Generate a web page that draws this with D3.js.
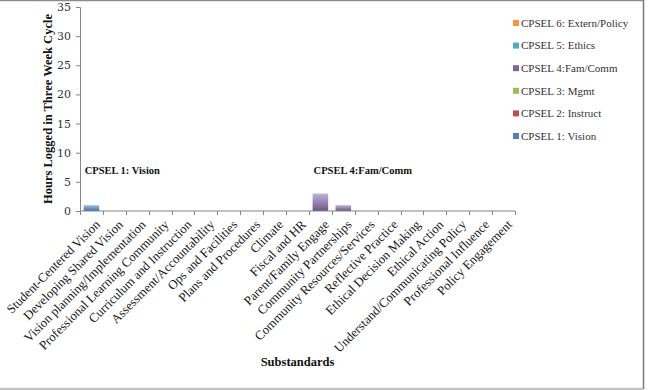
<!DOCTYPE html>
<html>
<head>
<meta charset="utf-8">
<script src="https://cdn.jsdelivr.net/npm/d3@7"></script>
<style>
  body { margin: 0; background: #fff; }
  svg { display: block; font-family: "Liberation Serif", serif; }
</style>
</head>
<body>
<script>
const W = 670, H = 390;
const margin = { top: 7, right: 155, bottom: 179, left: 80 };
const w = 515 - margin.left;
const h = 211 - margin.top;

const substandards = [
  'Student-Centered Vision', 'Developing Shared Vision', 'Vision planning/Implementation',
  'Professional Learning Community', 'Curriculum and Instruction', 'Assessment/Accountability',
  'Ops and Facilities', 'Plans and Procedures', 'Climate', 'Fiscal and HR',
  'Parent/Family Engage', 'Community Partnerships', 'Community Resources/Services',
  'Reflective Practice', 'Ethical Decision Making', 'Ethical Action',
  'Understand/Communicating Policy', 'Professional Influence', 'Policy Engagement'
];

const seriesNames = ['CPSEL 1: Vision', 'CPSEL 2: Instruct', 'CPSEL 3: Mgmt',
  'CPSEL 4:Fam/Comm', 'CPSEL 5: Ethics', 'CPSEL 6: Extern/Policy'];

// hours per substandard for each standard
const vision   = [1, 0, 0, 0, 0, 0, 0, 0, 0, 0, 0, 0, 0, 0, 0, 0, 0, 0, 0];
const instruct = [0, 0, 0, 0, 0, 0, 0, 0, 0, 0, 0, 0, 0, 0, 0, 0, 0, 0, 0];
const mgmt     = [0, 0, 0, 0, 0, 0, 0, 0, 0, 0, 0, 0, 0, 0, 0, 0, 0, 0, 0];
const famComm  = [0, 0, 0, 0, 0, 0, 0, 0, 0, 0, 3, 1, 0, 0, 0, 0, 0, 0, 0];
const ethics   = [0, 0, 0, 0, 0, 0, 0, 0, 0, 0, 0, 0, 0, 0, 0, 0, 0, 0, 0];
const extern   = [0, 0, 0, 0, 0, 0, 0, 0, 0, 0, 0, 0, 0, 0, 0, 0, 0, 0, 0];

const yTicks = [0, 5, 10, 15, 20, 25, 30, 35];

const annotations = [
  { label: 'CPSEL 1: Vision', at: 'Student-Centered Vision', value: 10 },
  { label: 'CPSEL 4:Fam/Comm', at: 'Parent/Family Engage', value: 10 }
];

const colors = ['#4f81bd', '#c0504d', '#9bbb59', '#8064a2', '#4bacc6', '#f79646'];
const lightColors = ['#a3bde3', '#e0a3a1', '#cde0ad', '#c2b3d6', '#a8dcea', '#fbc8a0'];

const allSeries = [vision, instruct, mgmt, famComm, ethics, extern];
const rows = substandards.map((s, i) => {
  const r = { cat: s };
  seriesNames.forEach((n, k) => { r[n] = allSeries[k][i]; });
  return r;
});

const svg = d3.select('body').append('svg')
  .attr('width', W)
  .attr('height', H);

// gradients like the spreadsheet bars
const defs = svg.append('defs');
seriesNames.forEach((n, k) => {
  const g = defs.append('linearGradient')
    .attr('id', 'grad' + k)
    .attr('x1', 0).attr('y1', 0).attr('x2', 0).attr('y2', 1);
  g.append('stop').attr('offset', '0%').attr('stop-color', lightColors[k]);
  g.append('stop').attr('offset', '100%').attr('stop-color', d3.color(colors[k]).darker(0.5));
});

// chart frame
svg.append('line').attr('x1', 0).attr('x2', 644).attr('y1', 0.5).attr('y2', 0.5)
  .attr('stroke', '#8c8c8c').attr('stroke-width', 1.5);
svg.append('line').attr('x1', 643.5).attr('x2', 643.5).attr('y1', 0).attr('y2', 389)
  .attr('stroke', '#7a7a7a').attr('stroke-width', 1.5);
svg.append('line').attr('x1', 0).attr('x2', 643).attr('y1', 389).attr('y2', 389)
  .attr('stroke', '#c4c4c4').attr('stroke-width', 2.5);

const g = svg.append('g')
  .attr('transform', 'translate(' + margin.left + ',' + margin.top + ')');

const x = d3.scaleBand().domain(substandards).range([0, w]).paddingInner(0.32).paddingOuter(0.16);
const y = d3.scaleLinear().domain([0, 35]).range([h, 0]);

const stacked = d3.stack().keys(seriesNames)(rows);

g.selectAll('g.layer')
  .data(stacked)
  .enter().append('g')
  .attr('class', 'layer')
  .attr('fill', (d, k) => 'url(#grad' + k + ')')
  .selectAll('rect')
  .data(d => d.filter(p => p[1] - p[0] > 0))
  .enter().append('rect')
  .attr('x', p => x(p.data.cat))
  .attr('y', p => y(p[1]))
  .attr('width', x.bandwidth())
  .attr('height', p => y(p[0]) - y(p[1]));

// y axis
const yAxis = g.append('g')
  .call(d3.axisLeft(y).tickValues(yTicks).tickSize(4).tickPadding(5));
yAxis.select('.domain').attr('stroke', '#868686');
yAxis.selectAll('.tick line').attr('stroke', '#868686');
yAxis.selectAll('.tick text')
  .attr('font-family', '"DejaVu Serif", serif')
  .attr('font-size', 11)
  .attr('fill', '#333');

// x axis, ticks on category boundaries
const step = x.step();
const xAxis = g.append('g').attr('transform', 'translate(0,' + h + ')');
xAxis.append('line').attr('x1', 0).attr('x2', w).attr('stroke', '#868686');
xAxis.selectAll('line.tk')
  .data(d3.range(substandards.length + 1))
  .enter().append('line')
  .attr('class', 'tk')
  .attr('x1', i => Math.round(i * step) + 0.5)
  .attr('x2', i => Math.round(i * step) + 0.5)
  .attr('y1', 0).attr('y2', 4)
  .attr('stroke', '#868686');

xAxis.selectAll('text.lbl')
  .data(substandards)
  .enter().append('text')
  .attr('class', 'lbl')
  .attr('transform', d => 'translate(' + (x(d) + x.bandwidth() / 2 + 3) + ',8) rotate(-45)')
  .attr('text-anchor', 'end')
  .attr('dy', '0.7em')
  .attr('font-size', 12.8)
  .attr('fill', '#1a1a1a')
  .text(d => d);

// axis titles
svg.append('text')
  .attr('transform', 'translate(52,' + (margin.top + h / 2) + ') rotate(-90)')
  .attr('text-anchor', 'middle')
  .attr('font-weight', 'bold')
  .attr('font-size', 12.5)
  .attr('fill', '#111')
  .text('Hours Logged in Three Week Cycle');

svg.append('text')
  .attr('x', margin.left + w / 2)
  .attr('y', 366)
  .attr('text-anchor', 'middle')
  .attr('font-weight', 'bold')
  .attr('font-size', 12.5)
  .attr('fill', '#111')
  .text('Substandards');

// standard labels
g.selectAll('text.ann')
  .data(annotations)
  .enter().append('text')
  .attr('class', 'ann')
  .attr('x', d => x(d.at) + 1)
  .attr('y', d => y(d.value) + 21)
  .attr('font-weight', 'bold')
  .attr('font-size', 10.5)
  .attr('fill', '#111')
  .text(d => d.label);

// legend, reversed order like the spreadsheet
const legend = svg.append('g').attr('transform', 'translate(513,23)');
const items = seriesNames.map((n, k) => ({ n, k })).reverse();
const li = legend.selectAll('g')
  .data(items)
  .enter().append('g')
  .attr('transform', (d, i) => 'translate(0,' + (i * 22.6) + ')');
li.append('rect')
  .attr('x', 0).attr('y', -3)
  .attr('width', 6).attr('height', 6)
  .attr('fill', d => colors[d.k]);
li.append('text')
  .attr('x', 8)
  .attr('dy', '0.35em')
  .attr('font-size', 11)
  .attr('fill', '#333')
  .text(d => d.n);
</script>
</body>
</html>
